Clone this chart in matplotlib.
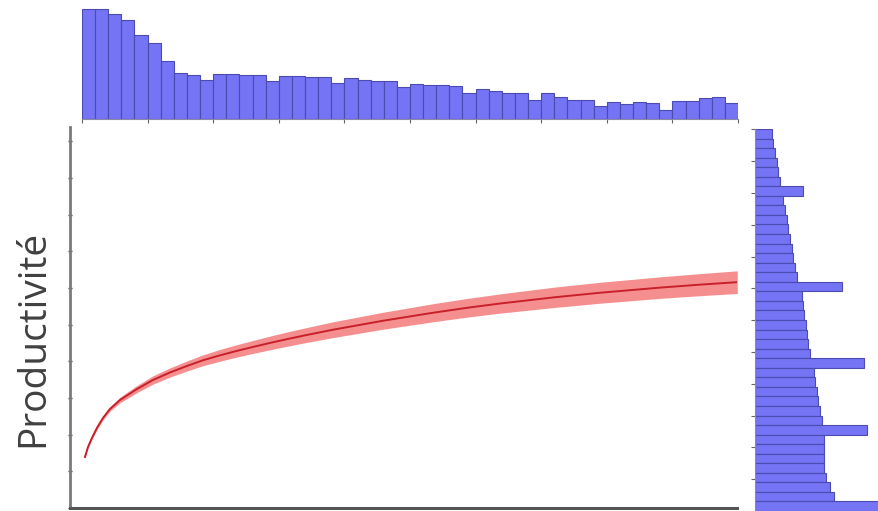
import numpy as np
import matplotlib.pyplot as plt

# top marginal histogram: counts per bin (50 bins, left to right)
top_counts = [327, 327, 314, 295, 252, 227, 172, 137, 132, 117,
              135, 135, 132, 132, 112, 129, 127, 124, 124, 107,
              122, 117, 112, 112, 94, 104, 102, 100, 97, 77,
              90, 85, 77, 79, 57, 79, 65, 57, 57, 40,
              52, 44, 52, 47, 27, 54, 54, 62, 67, 47]

# right marginal histogram: counts per bin (40 bins, top to bottom)
side_counts = [50, 55, 60, 65, 70, 75, 143, 85, 90, 95,
               100, 105, 110, 115, 120, 127, 260, 140, 145, 148,
               152, 155, 160, 165, 327, 177, 181, 185, 190, 195,
               200, 337, 207, 207, 207, 207, 213, 225, 237, 420]

# fitted curve and half width of its confidence band
curve_x = [0.23, 0.46, 0.76, 1.14, 1.60, 2.13, 2.90, 3.66, 4.19, 5.41,
           6.71, 8.00, 9.22, 10.52, 11.81, 13.03, 14.33, 15.63, 17.00, 19.13,
           22.94, 26.75, 29.35, 31.86, 36.05, 39.48, 44.06, 47.10, 49.92]
curve_y = [5.35, 6.40, 7.35, 8.40, 9.45, 10.39, 11.34, 12.02, 12.49, 13.44,
           14.23, 14.91, 15.51, 16.03, 16.50, 16.91, 17.33, 17.73, 18.13, 18.72,
           19.66, 20.50, 21.02, 21.47, 22.13, 22.60, 23.14, 23.45, 23.71]
band_half = [0.09, 0.11, 0.14, 0.18, 0.21, 0.23, 0.29, 0.34, 0.37, 0.44,
             0.48, 0.53, 0.57, 0.62, 0.65, 0.68, 0.72, 0.75, 0.78, 0.83,
             0.89, 0.95, 0.98, 1.01, 1.07, 1.10, 1.13, 1.16, 1.19]

bar_face = "#7474f4"
bar_edge = "#4b4bb0"

fig = plt.figure(figsize=(8.79, 5.11), dpi=100)
W, H = 879, 511


def box(x0, y0, x1, y1):
    # pixel box (top-left origin) -> figure fraction
    return [x0 / W, 1 - y1 / H, (x1 - x0) / W, (y1 - y0) / H]


ax = fig.add_axes(box(70, 127, 737, 508))
ax_top = fig.add_axes(box(82, 5, 738, 119))
ax_side = fig.add_axes(box(755, 129, 879, 511))

# main panel
cx = np.array(curve_x)
cy = np.array(curve_y)
hw = np.array(band_half)
ax.fill_between(cx, cy - hw, cy + hw, color="#f26a6a", alpha=0.75, lw=0)
ax.plot(cx, cy, color="#c8202a", lw=1.4, solid_joinstyle="round")
ax.set_xlim(-0.91, 49.9)
ax.set_ylim(0, 40)
for s in ["top", "right"]:
    ax.spines[s].set_visible(False)
ax.spines["left"].set_color("#7a7a7a")
ax.spines["left"].set_linewidth(2)
ax.spines["bottom"].set_color("#555555")
ax.spines["bottom"].set_linewidth(2.2)
ax.set_xticks([])
ax.set_yticks(np.arange(0, 41, 3.85))
ax.tick_params(axis="y", direction="inout", length=3, width=1, color="#444444",
               labelleft=False)
ax.set_ylabel("Productivité", family=["Open Sans", "DejaVu Sans"],
              fontsize=28, color="#404040")
ax.yaxis.set_label_coords(-0.027, 0.445)

# top histogram
ax_top.bar(np.arange(len(top_counts)), top_counts, width=1, align="edge",
           color=bar_face, edgecolor=bar_edge, lw=0.8)
ax_top.set_xlim(0, len(top_counts))
ax_top.set_ylim(0, 340)
for s in ["top", "right", "left"]:
    ax_top.spines[s].set_visible(False)
ax_top.spines["bottom"].set_color("#8a8aa8")
ax_top.set_xticks(np.arange(0, 51, 5))
ax_top.set_yticks([])
ax_top.tick_params(axis="x", direction="out", length=3, color="#666666",
                   labelbottom=False)

# right histogram
rows = np.arange(len(side_counts))[::-1]
ax_side.barh(rows, side_counts, height=1, align="edge",
             color=bar_face, edgecolor=bar_edge, lw=0.8)
ax_side.set_ylim(0, len(side_counts))
ax_side.set_xlim(0, 372)
for s in ["top", "right", "bottom"]:
    ax_side.spines[s].set_visible(False)
ax_side.spines["left"].set_color("#8a8aa8")
ax_side.set_yticks(np.arange(0, 41, 3.33))
ax_side.set_xticks([])
ax_side.tick_params(axis="y", direction="out", length=3, color="#666666",
                    labelleft=False)

fig.savefig("out.png", dpi=100)
